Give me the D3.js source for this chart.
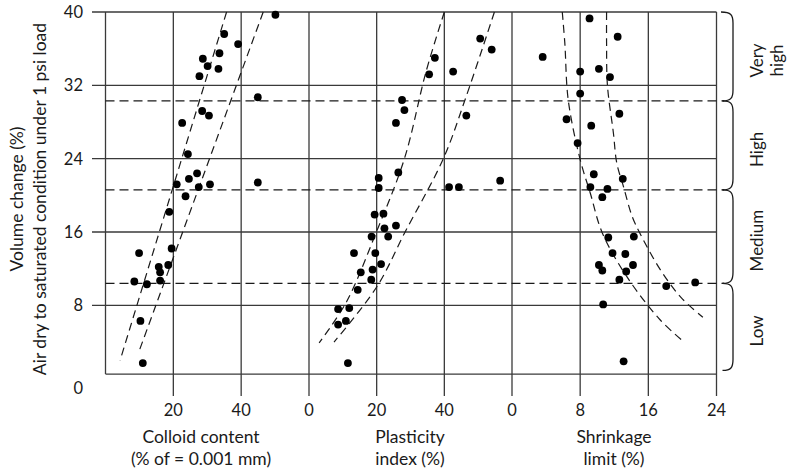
<!DOCTYPE html>
<html><head><meta charset="utf-8">
<script src="https://cdn.jsdelivr.net/npm/d3@7/dist/d3.min.js"></script>
<style>
html,body{margin:0;padding:0;background:#fff;}
svg{display:block;font-family:Lato,"Open Sans",sans-serif;}
</style></head>
<body><svg id="c" width="791" height="471"></svg>
<script>
// ---- data ----
const volumeTicks = [8, 16, 24, 32, 40];
const volumeTickLabels = ["0", "8", "16", "24", "32", "40"];
const colloidTicks = [20, 40];
const plasticityTicks = [0, 20, 40];
const shrinkageTicks = [0, 8, 16, 24];
const classBounds = [0.9, 10.4, 20.6, 30.3, 40];
const classLabels = [["Low"], ["Medium"], ["High"], ["Very", "high"]];

const colloidPoints = [
  [50.1,39.7],[35.0,37.6],[39.1,36.5],[28.7,34.9],[33.6,35.5],[30.1,34.1],[33.3,33.8],[27.7,33.0],
  [44.9,30.7],[28.5,29.2],[30.5,28.7],[22.6,27.9],[24.3,24.5],[24.6,21.8],[27.0,22.4],[27.5,20.9],
  [21.0,21.2],[30.8,21.2],[44.9,21.4],[23.6,19.9],[18.8,18.2],[9.9,13.7],[19.5,14.2],[15.7,12.2],
  [18.5,12.4],[16.1,11.6],[16.1,10.7],[8.5,10.6],[12.2,10.3],[10.3,6.3],[11.0,1.7]
];
const plasticityPoints = [
  [50.6,37.1],[54.0,35.9],[37.2,35.0],[42.6,33.5],[35.5,33.2],[27.5,30.4],[28.2,29.3],[46.5,28.7],
  [25.7,27.9],[26.4,22.5],[20.6,21.9],[20.6,20.8],[41.4,20.9],[44.3,20.9],[56.5,21.6],[19.4,17.9],
  [22.0,18.0],[22.3,16.4],[25.7,16.7],[18.5,15.5],[23.4,15.5],[13.3,13.7],[19.6,13.7],[21.3,12.5],
  [15.3,11.6],[18.8,11.9],[18.4,10.8],[14.4,9.7],[8.6,7.6],[11.9,7.7],[8.6,5.9],[10.9,6.3],[11.5,1.7]
];
const shrinkagePoints = [
  [9.1,39.3],[12.4,37.3],[3.6,35.1],[8.0,33.5],[10.2,33.8],[11.5,32.9],[8.0,31.1],[12.6,28.9],
  [6.4,28.3],[9.3,27.6],[7.7,25.7],[9.6,22.3],[13.0,21.8],[9.2,20.9],[11.2,20.7],[10.6,19.8],
  [11.3,15.4],[14.3,15.5],[11.8,13.7],[13.3,13.6],[10.2,12.4],[10.6,11.8],[14.2,12.4],[13.4,11.7],
  [12.6,10.8],[18.1,10.1],[21.5,10.5],[10.7,8.1],[13.1,1.9]
];

const colloidEnvelopeLeft  = [[35.7,40],[4.3,2.0]];
const colloidEnvelopeRight = [[46.5,40],[9.7,2.8]];
const plasticityEnvelopeLeft  = [[40.0,40],[34.6,33.5],[28.2,24.0],[19.8,15.9],[11.1,8.4],[3.0,3.9]];
const plasticityEnvelopeRight = [[54.8,40],[46.1,30.4],[39.7,24.0],[28.4,16.0],[20.0,10.0],[7.4,4.0]];
const shrinkageEnvelopeLeft  = [[5.9,40],[6.2,36.6],[6.6,30.4],[8.0,23.9],[9.2,20.2],[10.6,15.9],[13.5,11.1],[17.4,6.4],[20.2,4.0]];
const shrinkageEnvelopeRight = [[11.1,40],[11.1,36.6],[11.2,32.0],[11.9,26.8],[12.3,23.5],[13.1,20.9],[14.1,17.7],[15.1,15.7],[17.4,11.9],[19.8,8.9],[22.4,6.7]];

// ---- scales ----
const y = d3.scaleLinear().domain([0, 40]).range([378.7, 12]);
const xC = d3.scaleLinear().domain([0, 60]).range([105.5, 309]);
const xP = d3.scaleLinear().domain([0, 60]).range([309, 512]);
const xS = d3.scaleLinear().domain([0, 24]).range([512, 716.5]);

const svg = d3.select("#c");
const ink = "#1a1a1a", grid = "#3a3a3a";
const pLeft = xC(0), pRight = xS(24), pTop = y(40), pBottom = y(0.5);

// horizontal grid lines
svg.selectAll("line.h").data(volumeTicks).join("line")
  .attr("x1", 92).attr("x2", pRight).attr("y1", d => y(d)).attr("y2", d => y(d))
  .attr("stroke", grid).attr("stroke-width", 1.3);
svg.append("line").attr("x1", pLeft).attr("x2", pRight).attr("y1", pBottom).attr("y2", pBottom)
  .attr("stroke", grid).attr("stroke-width", 1.3);
// left frame
svg.append("line").attr("x1", pLeft).attr("x2", pLeft).attr("y1", pTop).attr("y2", pBottom)
  .attr("stroke", grid).attr("stroke-width", 1.3);
// vertical lines
const verts = [].concat(colloidTicks.map(d => xC(d)), plasticityTicks.map(d => xP(d)), shrinkageTicks.map(d => xS(d)));
svg.selectAll("line.v").data(verts).join("line")
  .attr("x1", d => d).attr("x2", d => d).attr("y1", pTop).attr("y2", 396)
  .attr("stroke", grid).attr("stroke-width", 1.3);

// class boundaries (dashed)
svg.selectAll("line.cb").data(classBounds.slice(1, 4)).join("line")
  .attr("x1", pLeft).attr("x2", 724).attr("y1", d => y(d)).attr("y2", d => y(d))
  .attr("stroke", ink).attr("stroke-width", 1.3).attr("stroke-dasharray", "9,5");

// y tick labels
svg.selectAll("text.yt").data([0].concat(volumeTicks)).join("text")
  .attr("x", 83).attr("y", d => d === 0 ? 394 : y(d) + 6)
  .attr("text-anchor", "end").attr("font-size", 16.5).attr("fill", ink)
  .text((d, i) => volumeTickLabels[i]);

// x tick labels
function xLabels(ticks, sc) {
  svg.append("g").selectAll("text").data(ticks).join("text")
    .attr("x", d => sc(d)).attr("y", 416).attr("text-anchor", "middle")
    .attr("font-size", 16.5).attr("fill", ink).text(d => d);
}
xLabels(colloidTicks, xC);
xLabels(plasticityTicks, xP);
xLabels(shrinkageTicks, xS);

// axis titles
const titles = [
  {x: 201, lines: ["Colloid content", "(% of = 0.001 mm)"]},
  {x: 410, lines: ["Plasticity", "index (%)"]},
  {x: 614, lines: ["Shrinkage", "limit (%)"]}
];
titles.forEach(t => {
  t.lines.forEach((l, i) => svg.append("text").attr("x", t.x).attr("y", 443 + i * 21.5)
    .attr("text-anchor", "middle").attr("font-size", 17.5).attr("fill", ink).text(l));
});
const yTitle = ["Volume change (%)", "Air dry to saturated condition under 1 psi load"];
yTitle.forEach((l, i) => svg.append("text")
  .attr("transform", `translate(${23 + i * 23},199) rotate(-90)`)
  .attr("text-anchor", "middle").attr("font-size", 17.5).attr("fill", ink).text(l));

// envelopes
const env = [
  [colloidEnvelopeLeft, xC], [colloidEnvelopeRight, xC],
  [plasticityEnvelopeLeft, xP], [plasticityEnvelopeRight, xP],
  [shrinkageEnvelopeLeft, xS], [shrinkageEnvelopeRight, xS]
];
env.forEach(([pts, sc]) => {
  const line = d3.line().x(d => sc(d[0])).y(d => y(d[1])).curve(d3.curveCatmullRom);
  svg.append("path").attr("d", line(pts)).attr("fill", "none")
    .attr("stroke", ink).attr("stroke-width", 1.2).attr("stroke-dasharray", "8,5");
});

// points
[[colloidPoints, xC], [plasticityPoints, xP], [shrinkagePoints, xS]].forEach(([pts, sc]) => {
  svg.append("g").selectAll("circle").data(pts).join("circle")
    .attr("cx", d => sc(d[0])).attr("cy", d => y(d[1])).attr("r", 3.9).attr("fill", "#000");
});

// brackets
const bx0 = 722.5, bx1 = 733;
classLabels.forEach((lab, i) => {
  const yb = y(classBounds[i]), yt = y(classBounds[i + 1]);
  const p = d3.path();
  p.moveTo(i === 3 ? 721 : bx0, yt);
  p.bezierCurveTo(bx1 - 2, yt, bx1, yt + 3, bx1, yt + 11);
  p.lineTo(bx1, yb - 11);
  p.bezierCurveTo(bx1, yb - 3, bx1 - 2, yb, bx0, yb);
  svg.append("path").attr("d", p.toString()).attr("fill", "none")
    .attr("stroke", ink).attr("stroke-width", 1.3);
  const cy = (yb + yt) / 2 + 4;
  lab.forEach((l, j) => {
    const cx = 763 + j * 20;
    svg.append("text").attr("transform", `translate(${cx},${cy}) rotate(-90)`)
      .attr("text-anchor", "middle").attr("font-size", 17).attr("fill", ink).text(l);
  });
});
</script></body></html>
